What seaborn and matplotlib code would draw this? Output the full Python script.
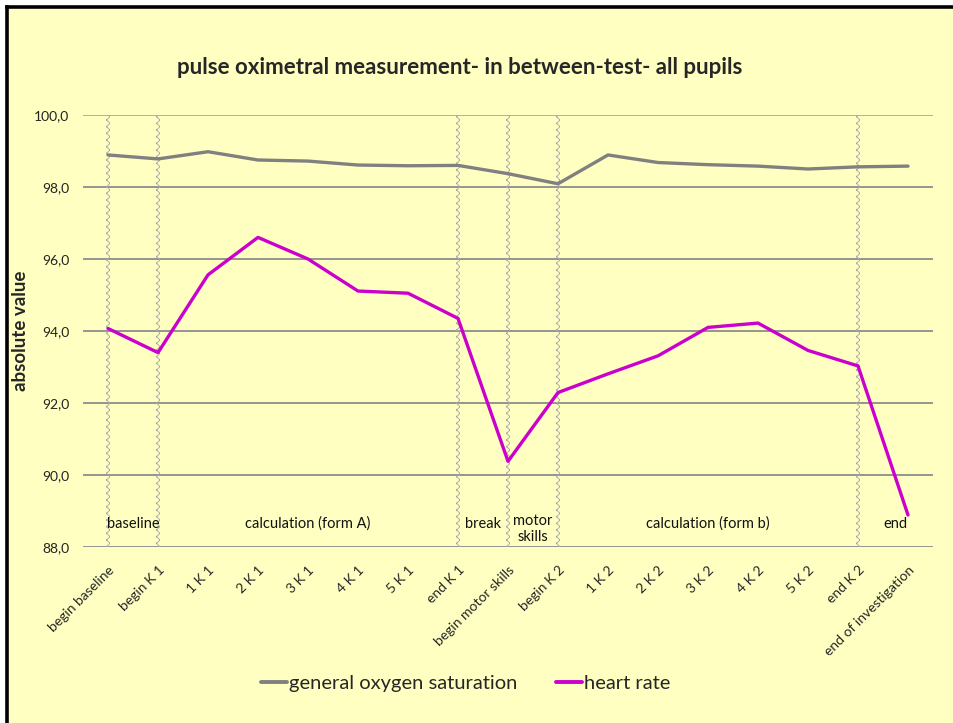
import matplotlib
matplotlib.use("Agg")
import matplotlib.pyplot as plt
import seaborn as sns
import pandas as pd

categories = ["begin baseline", "begin K 1", "1 K 1", "2 K 1", "3 K 1", "4 K 1", "5 K 1",
              "end K 1", "begin motor skills", "begin K 2", "1 K 2", "2 K 2", "3 K 2",
              "4 K 2", "5 K 2", "end K 2", "end of investigation"]
oxygen = [98.89, 98.78, 98.98, 98.75, 98.72, 98.61, 98.59, 98.60, 98.37, 98.09,
          98.89, 98.68, 98.62, 98.58, 98.50, 98.56, 98.58]
heart = [94.07, 93.40, 95.56, 96.60, 96.00, 95.11, 95.05, 94.35, 90.38, 92.29,
         92.81, 93.31, 94.10, 94.22, 93.46, 93.03, 88.89]
series_names = ["general oxygen saturation", "heart rate"]
phase_marks = ["begin baseline", "begin K 1", "end K 1", "begin motor skills", "begin K 2", "end K 2"]
phase_labels = ["baseline", "calculation (form A)", "break", "motor\nskills", "calculation (form b)", "end"]
y_ticks = [88, 90, 92, 94, 96, 98, 100]

sns.set_theme(style="white")
plt.rcParams['font.family'] = ['Lato', 'DejaVu Sans']
plt.rcParams['hatch.linewidth'] = 0.6

W, H = 954, 723
bg = "#FFFFC2"
fig = plt.figure(figsize=(W / 100, H / 100), dpi=100, facecolor="white")

# chart area background with border on top and left
bgax = fig.add_axes([7 / W, 0, 1 - 7 / W, 1 - 7 / H], zorder=-5)
bgax.set_facecolor(bg)
bgax.set_xticks([])
bgax.set_yticks([])
for side, sp in bgax.spines.items():
    if side in ("top", "left"):
        sp.set_visible(True)
        sp.set_color("black")
        sp.set_linewidth(2.6)
    else:
        sp.set_visible(False)

ax = fig.add_axes([83 / W, 1 - 547 / H, 850 / W, 432 / H], zorder=1)
ax.patch.set_alpha(0)

df = pd.DataFrame({
    "x": list(range(len(categories))) * 2,
    "value": oxygen + heart,
    "series": [series_names[0]] * len(categories) + [series_names[1]] * len(categories),
})

# phase boundary bands
mark_pos = [categories.index(m) for m in phase_marks]
ax.bar(mark_pos, [12] * len(mark_pos), bottom=88, width=0.09, facecolor="none",
       edgecolor="#A8A8A8", hatch="xxxxx", linewidth=0, zorder=1)

sns.lineplot(data=df, x="x", y="value", hue="series",
             palette={series_names[0]: "#808080", series_names[1]: "#CC00CC"},
             linewidth=2.4, ax=ax, legend=True, zorder=3)

ax.set_xlim(-0.5, len(categories) - 0.5)
ax.set_ylim(88, 100)
ax.set_yticks(y_ticks)
ax.set_yticklabels([f"{v:.1f}".replace(".", ",") for v in y_ticks], fontsize=10, color="#222222")
for v in y_ticks:
    ax.axhline(v, color="#8C8C8C" if v != 100 else "#AAAAAA", linewidth=1.3, zorder=0)
ax.set_xticks(range(len(categories)))
ax.set_xticklabels(categories, rotation=45, ha="right", rotation_mode="anchor", fontsize=10)
ax.tick_params(axis="x", pad=12, length=0)
ax.tick_params(axis="y", pad=10, length=0)
for s in ax.spines.values():
    s.set_visible(False)
ax.set_xlabel("")
ax.set_ylabel("absolute value", fontsize=13.5, fontweight="bold")
ax.yaxis.set_label_coords(-54 / 850, 0.5)

# phase labels
bounds = mark_pos + [len(categories) - 0.5]
centers = [(bounds[i] + bounds[i + 1]) / 2 for i in range(len(bounds) - 1)]
for c, lab in zip(centers, phase_labels):
    ax.text(c, 88.65 if "\n" not in lab else 88.5, lab, ha="center", va="center",
            fontsize=10.5, color="#111111", linespacing=1.1, zorder=4)

fig.text(460 / W, 1 - 68 / H, "pulse oximetral measurement- in between-test- all pupils",
         ha="center", va="center", fontsize=16, fontweight="bold")

handles, labels = ax.get_legend_handles_labels()
for h in handles:
    h.set_linewidth(2.8)
ax.legend(handles, labels, loc="center", bbox_to_anchor=(466 / W, 1 - 683 / H),
          bbox_transform=fig.transFigure, ncol=2, frameon=False, fontsize=14.5,
          handlelength=1.3, handletextpad=0.1, columnspacing=1.9)

fig.savefig("out.png", dpi=100, facecolor="white")
